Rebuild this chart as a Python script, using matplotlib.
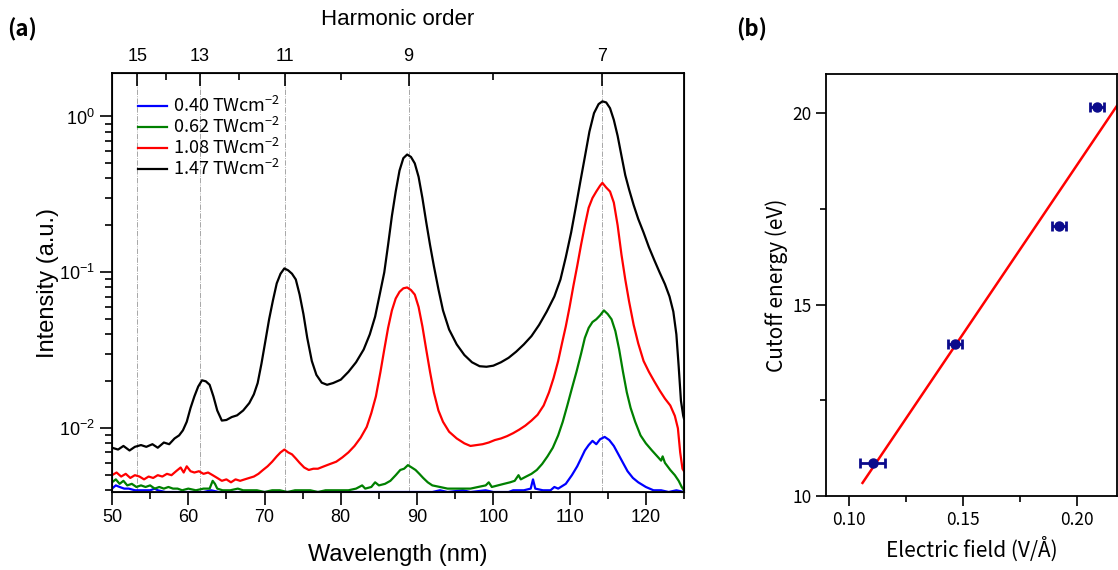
import numpy as np
import matplotlib
matplotlib.use("Agg")
import matplotlib.pyplot as plt
from matplotlib.ticker import MultipleLocator, FormatStrFormatter, LogLocator, NullFormatter

plt.rcParams['font.family'] = ['Liberation Sans', 'DejaVu Sans']
plt.rcParams['mathtext.fontset'] = 'custom'
plt.rcParams['mathtext.rm'] = 'Liberation Sans'
plt.rcParams['mathtext.default'] = 'regular'

# ---- panel (a): HHG spectra ----
black_wl = [50.0, 50.8, 51.5, 52.3, 53.0, 53.8, 54.5, 55.3, 56.0, 56.8, 57.5, 58.2, 58.8, 59.3, 59.8,
            60.3, 60.8, 61.3, 61.8, 62.3, 62.8, 63.3, 63.8, 64.4, 65.0, 65.7, 66.4, 67.2, 68.0, 68.6,
            69.1, 69.6, 70.1, 70.6, 71.1, 71.6, 72.1, 72.6, 73.1, 73.6, 74.1, 74.6, 75.1, 75.6, 76.2,
            76.8, 77.5, 78.2, 79.0, 80.0, 81.0, 82.0, 83.0, 83.8, 84.5, 85.1, 85.7, 86.2, 86.7, 87.2,
            87.7, 88.2, 88.7, 89.2, 89.7, 90.2, 90.7, 91.2, 91.7, 92.2, 92.8, 93.4, 94.2, 95.2, 96.2,
            97.2, 98.2, 99.1, 100.0, 101.0, 102.0, 103.0, 104.0, 105.0, 106.0, 107.0, 108.0, 108.8,
            109.5, 110.2, 110.8, 111.4, 112.0, 112.6, 113.2, 113.8, 114.3, 114.8, 115.3, 115.8, 116.3,
            116.8, 117.3, 117.8, 118.4, 119.0, 119.7, 120.4, 121.1, 121.8, 122.5, 123.1, 123.6, 124.0,
            124.3, 124.6, 124.9, 125.0]
black_int = [0.0075, 0.0073, 0.0077, 0.0072, 0.0076, 0.0078, 0.0076, 0.0079, 0.0075, 0.0081, 0.0079,
             0.0086, 0.0090, 0.0097, 0.0110, 0.0135, 0.0160, 0.0185, 0.0203, 0.0200, 0.0190, 0.0160,
             0.0130, 0.0112, 0.0113, 0.0118, 0.0121, 0.0130, 0.0145, 0.0165, 0.0195, 0.0260, 0.0360,
             0.0500, 0.0660, 0.0850, 0.0980, 0.1060, 0.1030, 0.0980, 0.0900, 0.0720, 0.0540, 0.0380,
             0.0270, 0.0220, 0.0196, 0.0190, 0.0195, 0.0205, 0.0230, 0.0265, 0.0320, 0.0400, 0.0520,
             0.0720, 0.1000, 0.1500, 0.2300, 0.3300, 0.4500, 0.5400, 0.5700, 0.5500, 0.5000, 0.4100,
             0.3000, 0.2100, 0.1500, 0.1100, 0.0780, 0.0570, 0.0430, 0.0345, 0.0295, 0.0265, 0.0250,
             0.0248, 0.0252, 0.0265, 0.0283, 0.0310, 0.0345, 0.0390, 0.0460, 0.0560, 0.0700, 0.0900,
             0.1250, 0.1800, 0.2600, 0.3800, 0.5500, 0.8000, 1.0500, 1.2000, 1.2500, 1.2300, 1.1300,
             0.9500, 0.7500, 0.5600, 0.4200, 0.3400, 0.2700, 0.2200, 0.1800, 0.1450, 0.1200, 0.1000,
             0.0840, 0.0700, 0.0560, 0.0400, 0.0250, 0.0150, 0.0120, 0.0115]

red_wl = [50.0, 50.6, 51.2, 51.8, 52.4, 53.0, 53.6, 54.2, 54.8, 55.4, 56.0, 56.6, 57.2, 57.8, 58.4,
          59.0, 59.4, 59.8, 60.3, 60.8, 61.4, 62.0, 62.6, 63.2, 63.8, 64.4, 65.0, 65.6, 66.2, 66.8,
          67.4, 68.0, 68.6, 69.2, 69.8, 70.4, 71.0, 71.6, 72.1, 72.6, 73.1, 73.6, 74.1, 74.6, 75.2,
          75.8, 76.4, 77.0, 77.8, 78.6, 79.4, 80.2, 81.0, 81.8, 82.6, 83.4, 84.0, 84.6, 85.2, 85.7,
          86.2, 86.7, 87.2, 87.7, 88.2, 88.7, 89.2, 89.7, 90.2, 90.7, 91.2, 91.7, 92.2, 92.8, 93.4,
          94.2, 95.2, 96.2, 97.0, 97.8, 98.6, 99.4, 100.2, 101.0, 101.8, 102.6, 103.4, 104.2, 105.0,
          105.8, 106.6, 107.3, 107.9, 108.5, 109.0, 109.5, 110.0, 110.5, 111.0, 111.5, 112.0, 112.5,
          113.0, 113.5, 114.0, 114.3, 114.8, 115.3, 115.8, 116.3, 116.8, 117.3, 117.8, 118.4, 119.0,
          119.7, 120.4, 121.1, 121.8, 122.5, 123.2, 123.8, 124.2, 124.5, 124.8, 125.0]
red_int = [0.0050, 0.0052, 0.0049, 0.0051, 0.0048, 0.0050, 0.0049, 0.0047, 0.0049, 0.0048, 0.0050,
           0.0049, 0.0051, 0.0050, 0.0053, 0.0056, 0.0052, 0.0057, 0.0053, 0.0052, 0.0053, 0.0051,
           0.0052, 0.0050, 0.0048, 0.0046, 0.0047, 0.0045, 0.0047, 0.0046, 0.0047, 0.0048, 0.0049,
           0.0051, 0.0054, 0.0057, 0.0061, 0.0066, 0.0070, 0.0073, 0.0070, 0.0068, 0.0064, 0.0060,
           0.0056, 0.0054, 0.0055, 0.0055, 0.0057, 0.0059, 0.0061, 0.0065, 0.0070, 0.0077, 0.0087,
           0.0102, 0.0125, 0.0160, 0.0230, 0.0320, 0.0440, 0.0570, 0.0680, 0.0750, 0.0790, 0.0800,
           0.0770, 0.0720, 0.0600, 0.0450, 0.0320, 0.0230, 0.0170, 0.0130, 0.0110, 0.0095, 0.0086,
           0.0080, 0.0077, 0.0078, 0.0079, 0.0081, 0.0084, 0.0086, 0.0089, 0.0093, 0.0098, 0.0104,
           0.0112, 0.0122, 0.0140, 0.0170, 0.0210, 0.0270, 0.0350, 0.0450, 0.0600, 0.0820, 0.1100,
           0.1500, 0.2000, 0.2600, 0.3000, 0.3300, 0.3600, 0.3750, 0.3500, 0.3300, 0.2800, 0.2000,
           0.1300, 0.0900, 0.0650, 0.0460, 0.0350, 0.0270, 0.0230, 0.0200, 0.0175, 0.0155, 0.0140,
           0.0120, 0.0100, 0.0070, 0.0055, 0.0053]

green_wl = [50.0, 50.5, 51.0, 51.5, 52.0, 52.6, 53.2, 53.8, 54.4, 55.0, 55.6, 56.2, 56.8, 57.4, 58.0,
            58.6, 59.2, 60.0, 61.0, 62.0, 62.8, 63.2, 63.5, 63.8, 64.5, 65.5, 66.5, 67.2, 68.0, 69.0,
            70.0, 71.0, 72.0, 73.0, 74.0, 75.0, 76.0, 77.0, 78.0, 79.0, 80.0, 81.0, 82.0, 82.8, 83.2,
            84.0, 84.5, 85.0, 85.8, 86.5, 87.2, 87.8, 88.3, 88.8, 89.3, 89.8, 90.3, 90.8, 91.4, 92.0,
            93.0, 94.0, 95.0, 96.0, 97.0, 98.0, 99.0, 99.4, 99.8, 100.6, 101.4, 102.2, 102.8, 103.3,
            103.6, 104.3, 105.0, 105.7, 106.4, 107.1, 107.8, 108.5, 109.1, 109.7, 110.3, 110.9, 111.5,
            112.0, 112.5, 113.0, 113.5, 114.0, 114.5, 115.0, 115.5, 116.0, 116.5, 117.0, 117.5, 118.0,
            118.6, 119.3, 120.0, 120.8, 121.5, 122.0, 122.2, 122.5, 123.2, 123.8, 124.3, 124.7, 125.0]
green_int = [0.0045, 0.0047, 0.0044, 0.0046, 0.0043, 0.0044, 0.0042, 0.0043, 0.0042, 0.0043, 0.0041,
             0.0042, 0.0041, 0.0042, 0.0041, 0.0041, 0.0040, 0.0041, 0.0040, 0.0041, 0.0041, 0.0046,
             0.0044, 0.0041, 0.0040, 0.0040, 0.0041, 0.0040, 0.0040, 0.0040, 0.0039, 0.0040, 0.0040,
             0.0039, 0.0040, 0.0040, 0.0040, 0.0039, 0.0040, 0.0040, 0.0040, 0.0040, 0.0041, 0.0043,
             0.0041, 0.0042, 0.0045, 0.0043, 0.0044, 0.0046, 0.0050, 0.0054, 0.0055, 0.0058, 0.0056,
             0.0054, 0.0051, 0.0048, 0.0045, 0.0043, 0.0042, 0.0041, 0.0041, 0.0041, 0.0041, 0.0042,
             0.0043, 0.0045, 0.0042, 0.0043, 0.0044, 0.0045, 0.0046, 0.0050, 0.0047, 0.0049, 0.0051,
             0.0054, 0.0059, 0.0066, 0.0075, 0.0090, 0.0110, 0.0140, 0.0180, 0.0230, 0.0300, 0.0380,
             0.0440, 0.0480, 0.0500, 0.0530, 0.0570, 0.0540, 0.0500, 0.0420, 0.0320, 0.0230, 0.0170,
             0.0135, 0.0110, 0.0090, 0.0080, 0.0072, 0.0066, 0.0062, 0.0066, 0.0060, 0.0054, 0.0050,
             0.0046, 0.0042, 0.0040]

blue_wl = [50.0, 50.5, 51.0, 51.6, 52.2, 53.0, 54.0, 55.0, 55.6, 56.0, 57.0, 58.0, 59.0, 60.0, 62.0,
           63.0, 64.0, 66.0, 68.0, 70.0, 72.0, 74.0, 76.0, 78.0, 80.0, 82.0, 84.0, 86.0, 88.0, 90.0,
           92.0, 93.0, 94.0, 96.0, 97.0, 99.0, 100.0, 102.0, 102.6, 104.0, 104.9, 105.2, 105.5, 106.5,
           107.5, 108.0, 108.5, 109.5, 110.3, 111.0, 111.5, 112.0, 112.5, 113.0, 113.5, 114.0, 114.6,
           115.2, 115.8, 116.4, 117.0, 117.6, 118.3, 119.0, 120.0, 121.0, 122.0, 123.0, 124.0, 125.0]
blue_int = [0.0041, 0.0043, 0.0042, 0.0041, 0.0041, 0.0040, 0.0040, 0.0040, 0.0041, 0.0040, 0.0039,
            0.0039, 0.0039, 0.0039, 0.0039, 0.0040, 0.0039, 0.0039, 0.0039, 0.0039, 0.0039, 0.0039,
            0.0039, 0.0039, 0.0039, 0.0039, 0.0039, 0.0039, 0.0039, 0.0039, 0.0039, 0.0040, 0.0039,
            0.0040, 0.0039, 0.0040, 0.0039, 0.0039, 0.0040, 0.0040, 0.0041, 0.0047, 0.0041, 0.0040,
            0.0040, 0.0042, 0.0041, 0.0044, 0.0050, 0.0057, 0.0064, 0.0072, 0.0078, 0.0083, 0.0079,
            0.0085, 0.0088, 0.0084, 0.0077, 0.0068, 0.0060, 0.0053, 0.0048, 0.0045, 0.0042, 0.0040,
            0.0040, 0.0039, 0.0040, 0.0039]

intensity_labels = ['0.40', '0.62', '1.08', '1.47']
harmonic_orders = [15, 13, 11, 9, 7]
even_orders = [14, 12, 10, 8]
drive_wl = 800.0  # nm

# ---- panel (b): cutoff energy vs field ----
field = [0.1105, 0.1465, 0.1921, 0.2088]
field_err = [0.0055, 0.003, 0.003, 0.003]
cutoff = [10.86, 13.97, 17.05, 20.15]
fit_range = [0.106, 0.22]

fig = plt.figure(figsize=(11.18, 5.70), dpi=100)

# ---------------- (a) ----------------
ax = fig.add_axes([112 / 1118, 1 - 492 / 570, 572 / 1118, 419 / 570])
for q in harmonic_orders:
    ax.axvline(drive_wl / q, color='0.6', ls='-.', lw=0.6, zorder=0)

curves = [(blue_wl, blue_int, 'blue'), (green_wl, green_int, 'green'),
          (red_wl, red_int, 'red'), (black_wl, black_int, 'black')]
for (wl, inten, c), lab in zip(curves, intensity_labels):
    ax.plot(wl, inten, color=c, lw=1.6, label=lab + ' TWcm$^{-2}$')

ax.set_yscale('log')
ax.set_xlim(50, 125)
ax.set_ylim(0.0039, 1.9)
ax.xaxis.set_major_locator(MultipleLocator(10))
ax.xaxis.set_minor_locator(MultipleLocator(5))
ax.set_yticks([1e-2, 1e-1, 1])
ax.set_yticklabels(['$10^{-2}$', '$10^{-1}$', '$10^{0}$'])
ax.yaxis.set_minor_locator(LogLocator(base=10, subs=np.arange(2, 10)))
ax.yaxis.set_minor_formatter(NullFormatter())
ax.tick_params(which='major', direction='out', length=9, width=1.2, labelsize=13)
ax.tick_params(which='minor', direction='out', length=5, width=1.2)
ax.tick_params(axis='x', top=False, which='both')
for s in ax.spines.values():
    s.set_linewidth(1.3)
ax.set_xlabel('Wavelength (nm)', fontsize=17, labelpad=13)
ax.set_ylabel('Intensity (a.u.)', fontsize=17, labelpad=0)

top = ax.twiny()
top.set_xlim(50, 125)
top.set_xticks([drive_wl / q for q in harmonic_orders])
top.set_xticklabels([str(q) for q in harmonic_orders])
top.set_xticks([drive_wl / q for q in even_orders], minor=True)
top.tick_params(which='major', direction='in', length=9, width=1.2, labelsize=13, pad=6)
top.tick_params(which='minor', direction='in', length=5, width=1.2)
top.set_xlabel('Harmonic order', fontsize=16, labelpad=16)

leg = ax.legend(loc='upper left', bbox_to_anchor=(0.045, 0.945), frameon=False,
                borderaxespad=0, borderpad=0, handlelength=1.6, handletextpad=0.35,
                labelspacing=0.05, prop={'family': ['Noto Sans CJK KR', 'DejaVu Sans'], 'size': 13})

# ---------------- (b) ----------------
bx = fig.add_axes([826 / 1118, 1 - 496 / 570, 291 / 1118, 422 / 570])
slope, icpt = np.polyfit(field, cutoff, 1)
fx = np.array(fit_range)
bx.plot(fx, slope * fx + icpt, color='red', lw=1.8, zorder=2)
bx.errorbar(field, cutoff, xerr=field_err, fmt='o', color='#0b0b8c', ms=6.5,
            elinewidth=2, capsize=3.5, capthick=2, zorder=3)
bx.set_xlim(0.09, 0.2175)
bx.set_ylim(10, 21.02)
bx.xaxis.set_major_locator(MultipleLocator(0.05))
bx.xaxis.set_minor_locator(MultipleLocator(0.025))
bx.xaxis.set_major_formatter(FormatStrFormatter('%.2f'))
bx.yaxis.set_major_locator(MultipleLocator(5))
bx.yaxis.set_minor_locator(MultipleLocator(2.5))
bx.tick_params(which='major', direction='out', length=7, width=1.2, labelsize=12.5)
bx.tick_params(which='minor', direction='out', length=4, width=1.2)
for lab in bx.get_xticklabels() + bx.get_yticklabels():
    lab.set_family(['Noto Sans CJK KR', 'DejaVu Sans'])
for s in bx.spines.values():
    s.set_linewidth(1.3)
bx.set_xlabel('Electric field (V/Å)', fontsize=15, labelpad=6,
              family=['Noto Sans CJK KR', 'DejaVu Sans'])
bx.set_ylabel('Cutoff energy (eV)', fontsize=15, labelpad=3,
              family=['Noto Sans CJK KR', 'DejaVu Sans'])

fig.text(0.006, 0.948, '(a)', fontsize=16, fontweight='bold', va='center',
         family=['Noto Sans CJK KR', 'DejaVu Sans'])
fig.text(0.658, 0.948, '(b)', fontsize=16, fontweight='bold', va='center',
         family=['Noto Sans CJK KR', 'DejaVu Sans'])

fig.savefig('out.png', dpi=100)
